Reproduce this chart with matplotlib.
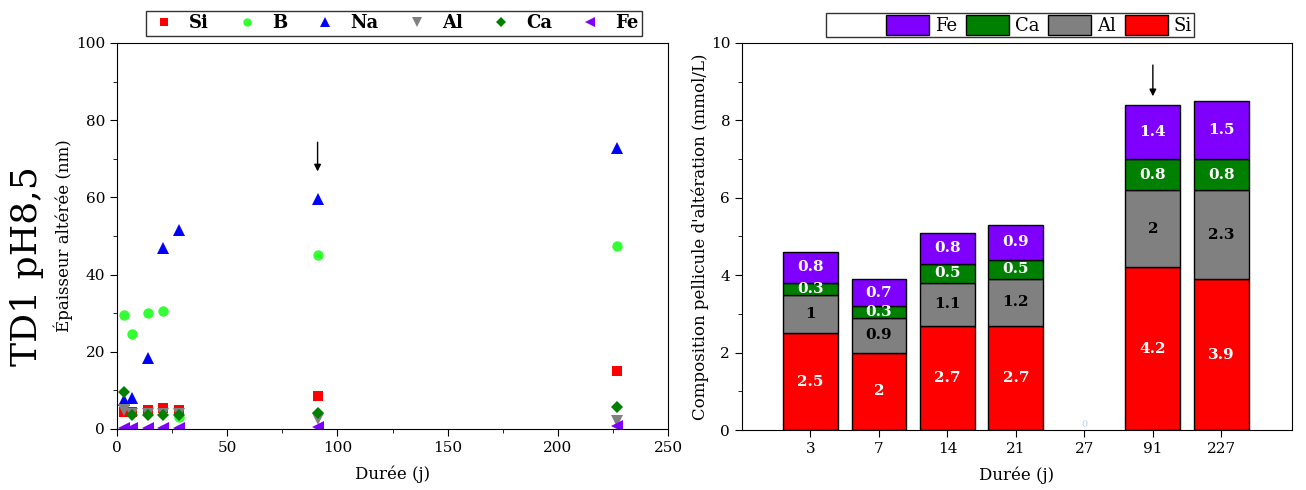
import matplotlib
matplotlib.use("Agg")
import matplotlib.pyplot as plt
from matplotlib.patches import Patch
import numpy as np

plt.rcParams['font.family'] = ['DejaVu Serif']

# ---------------- Left panel data ----------------
days = [3, 7, 14, 21, 28, 91, 227]
si_nm = [4.5, 4.5, 5.0, 5.5, 5.0, 8.5, 15.0]
b_nm = [29.5, 24.5, 30.0, 30.5, 3.0, 45.2, 47.5]
na_nm = [7.5, 8.0, 18.5, 47.0, 51.5, 59.5, 72.8]
al_nm = [5.0, 4.0, 4.0, 4.0, 4.0, 2.5, 2.0]
ca_nm = [9.5, 3.5, 3.5, 3.5, 3.5, 4.2, 5.8]
fe_nm = [0.3, 0.3, 0.3, 0.3, 0.3, 0.5, 0.8]

# ---------------- Right panel data ----------------
categories = ['3', '7', '14', '21', '27', '91', '227']
si_bar = [2.5, 2.0, 2.7, 2.7, 0.0, 4.2, 3.9]
al_bar = [1.0, 0.9, 1.1, 1.2, 0.0, 2.0, 2.3]
ca_bar = [0.3, 0.3, 0.5, 0.5, 0.0, 0.8, 0.8]
fe_bar = [0.8, 0.7, 0.8, 0.9, 0.0, 1.4, 1.5]

c_si = '#ff0000'
c_b = '#33ff33'
c_na = '#0000ff'
c_al = '#808080'
c_ca = '#008000'
c_fe = '#8000ff'

fig = plt.figure(figsize=(13.06, 4.90), dpi=100)

# ======== Left axes ========
ax1 = fig.add_axes([0.0896, 0.1245, 0.4219, 0.7878])
series = [
    ('Si', si_nm, c_si, 's', 6.5),
    ('B', b_nm, c_b, 'o', 7.5),
    ('Na', na_nm, c_na, '^', 8.5),
    ('Al', al_nm, c_al, 'v', 8.5),
    ('Ca', ca_nm, c_ca, 'D', 6.5),
    ('Fe', fe_nm, c_fe, '<', 8.5),
]
handles = []
for name, vals, col, mk, ms in series:
    h, = ax1.plot(days, vals, linestyle='none', marker=mk, color=col,
                  markersize=ms, markeredgewidth=0, label=name)
    handles.append(h)
ax1.set_xlim(0, 250)
ax1.set_ylim(0, 100)
ax1.set_xticks(np.arange(0, 251, 50))
ax1.set_xticks(np.arange(25, 251, 50), minor=True)
ax1.set_yticks(np.arange(0, 101, 20))
ax1.set_yticks(np.arange(10, 101, 20), minor=True)
ax1.tick_params(axis='both', which='both', direction='out', labelsize=11,
                top=False, right=False)
ax1.tick_params(which='major', length=5)
ax1.tick_params(which='minor', length=3)
ax1.set_xlabel('Durée (j)', fontsize=12, labelpad=8)
ax1.set_ylabel('Épaisseur altérée (nm)', fontsize=12, labelpad=2)
ax1.annotate('', xy=(91, 66), xytext=(91, 75),
             arrowprops=dict(arrowstyle='-|>', color='black', lw=1,
                             mutation_scale=10))
fig.text(0.021, 1 - 266 / 490, 'TD1 pH8,5', rotation=90, fontsize=26,
         ha='center', va='center')
leg1 = fig.legend(handles=handles, loc='center', ncol=6,
                  bbox_to_anchor=(394 / 1306, 1 - 23.5 / 490), frameon=True,
                  fancybox=False, edgecolor='black',
                  prop={'weight': 'bold', 'size': 13}, handletextpad=0.6,
                  columnspacing=1.3, borderpad=0.2, handlelength=1.6,
                  markerscale=0.8, borderaxespad=0)
leg1.get_frame().set_linewidth(1.0)

# ======== Right axes ========
ax2 = fig.add_axes([0.5681, 0.1224, 0.4211, 0.7900])
x = np.arange(len(categories))
w = 0.8
bottom = np.zeros(len(categories))
stack = [('Si', si_bar, c_si, 'white'), ('Al', al_bar, c_al, 'black'),
         ('Ca', ca_bar, c_ca, 'white'), ('Fe', fe_bar, c_fe, 'white')]
for name, vals, col, tcol in stack:
    vals = np.array(vals)
    nz = vals > 0
    ax2.bar(x[nz], vals[nz], w, bottom=bottom[nz], color=col,
            edgecolor='black', linewidth=1.0, label=name)
    for xi, v, bt in zip(x[nz], vals[nz], bottom[nz]):
        ax2.text(xi, bt + v / 2, f'{v:g}', ha='center', va='center',
                 color=tcol, fontsize=11, fontweight='bold')
    bottom = bottom + vals
ax2.text(4, 0.02, '0', ha='center', va='bottom', color='#b8d4ee', fontsize=7)
ax2.set_xlim(-1, 7.03)
ax2.set_ylim(0, 10)
ax2.set_xticks(x)
ax2.set_xticklabels(categories)
ax2.set_yticks(np.arange(0, 11, 2))
ax2.set_yticks(np.arange(1, 11, 2), minor=True)
ax2.tick_params(axis='both', which='both', direction='out', labelsize=11,
                top=False, right=False)
ax2.tick_params(which='major', length=5)
ax2.tick_params(which='minor', length=3)
ax2.set_xlabel('Durée (j)', fontsize=12, labelpad=8)
ax2.set_ylabel("Composition pellicule d'altération (mmol/L)", fontsize=12,
               labelpad=1)
ax2.annotate('', xy=(5, 8.55), xytext=(5, 9.5),
             arrowprops=dict(arrowstyle='-|>', color='black', lw=1,
                             mutation_scale=10))

blank = Patch(facecolor='none', edgecolor='none')
leg_handles = [blank,
               Patch(facecolor=c_fe, edgecolor='black'),
               Patch(facecolor=c_ca, edgecolor='black'),
               Patch(facecolor=c_al, edgecolor='black'),
               Patch(facecolor=c_si, edgecolor='black')]
leg_labels = ['', 'Fe', 'Ca', 'Al', 'Si']
leg2 = fig.legend(leg_handles, leg_labels, loc='center', ncol=5,
                  bbox_to_anchor=(1010 / 1306, 1 - 25 / 490), frameon=True,
                  fancybox=False, edgecolor='black', fontsize=13,
                  handlelength=2.4, handleheight=1.3, handletextpad=0.3,
                  columnspacing=0.5, borderpad=0.1, borderaxespad=0)
leg2.get_frame().set_linewidth(1.0)

fig.savefig('out.png', dpi=100)
